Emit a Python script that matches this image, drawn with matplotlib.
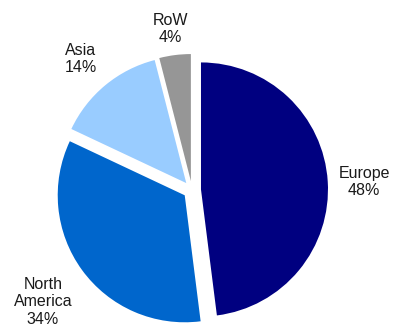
import matplotlib.pyplot as plt
from matplotlib import font_manager

regions = ['Europe', 'North America', 'Asia', 'RoW']
shares = [48, 34, 14, 4]
colors = ['#000080', '#0066CC', '#99CCFF', '#969696']

# label centres in pixel coords (x, y from top)
label_pos = [(364, 182), (43, 302), (81, 59), (170, 29)]
label_text = ['Europe\n48%', 'North\nAmerica\n34%', 'Asia\n14%', 'RoW\n4%']

names = {f.name for f in font_manager.fontManager.ttflist}
family = ['Liberation Sans Narrow', 'Arial Narrow', 'Liberation Sans', 'DejaVu Sans']
family = [f for f in family if f in names] or ['DejaVu Sans']
plt.rcParams['font.family'] = family

fig = plt.figure(figsize=(3.93, 3.28), dpi=100)
ax = fig.add_axes([0, 0, 1, 1])

# explode is in data units here (radius is in pixels)
ax.pie(shares, colors=colors, startangle=90, counterclock=False,
       explode=[9] * 4, radius=127, center=(192, 328 - 190),
       wedgeprops=dict(linewidth=0))

# pie() resets the limits, so set them afterwards
ax.set_xlim(0, 393)
ax.set_ylim(0, 328)
ax.set_aspect('equal')
ax.axis('off')

for (x, y), t in zip(label_pos, label_text):
    ax.text(x, 328 - y, t, ha='center', va='center', multialignment='center',
            fontsize=11.5, color='#1a1a1a', linespacing=1.2)

plt.savefig('out.png', dpi=100)
